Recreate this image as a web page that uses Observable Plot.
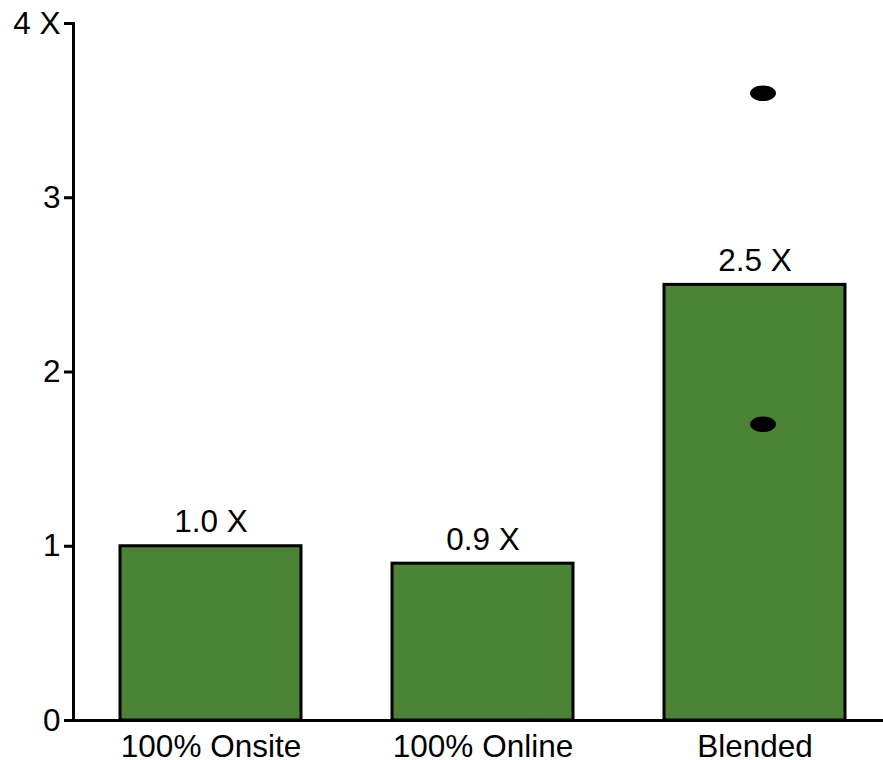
<!DOCTYPE html>
<html>
<head>
<meta charset="utf-8">
<script src="https://cdn.jsdelivr.net/npm/d3@7"></script>
<script src="https://cdn.jsdelivr.net/npm/@observablehq/plot@0.6"></script>
<style>
  html, body { margin: 0; padding: 0; background: #fff; }
  #chart svg { display: block; }
</style>
</head>
<body>
<div id="chart"></div>
<script>
// Relative outcome by delivery mode
const categories = ["100% Onsite", "100% Online", "Blended"];
const values = [1.0, 0.9, 2.5];
const valueLabels = ["1.0 X", "0.9 X", "2.5 X"];
// Individual observations shown for the blended group
const pointCategories = ["Blended", "Blended"];
const pointValues = [3.6, 1.7];
const yTicks = [0, 1, 2, 3, 4];
const yTickLabels = ["0", "1", "2", "3", "4 X"];

const bars = categories.map((c, i) => ({category: c, value: values[i], label: valueLabels[i]}));
const points = pointCategories.map((c, i) => ({category: c, value: pointValues[i]}));

const FONT_SIZE = 31.5;

// Horizontal ellipse drawn as a dot symbol
const ellipseSymbol = {
  draw(context, size) {
    const rx = Math.sqrt(size / Math.PI);
    const ry = rx * 0.6;
    const k = 0.5523;
    context.moveTo(rx, 0);
    context.bezierCurveTo(rx, k * ry, k * rx, ry, 0, ry);
    context.bezierCurveTo(-k * rx, ry, -rx, k * ry, -rx, 0);
    context.bezierCurveTo(-rx, -k * ry, -k * rx, -ry, 0, -ry);
    context.bezierCurveTo(k * rx, -ry, rx, -k * ry, rx, 0);
    context.closePath();
  }
};

const chart = Plot.plot({
  width: 883,
  height: 760,
  marginTop: 23,
  marginBottom: 40,
  marginLeft: 73,
  marginRight: 0,
  style: {fontFamily: "'Liberation Sans', Arial, sans-serif", fontSize: FONT_SIZE + "px", color: "black", background: "white"},
  x: {domain: categories, paddingInner: 0.336, paddingOuter: 0.154, align: 0.548, label: null},
  y: {domain: [0, 4], label: null},
  marks: [
    Plot.barY(bars, {x: "category", y: "value", fill: "#4a8236", stroke: "black", strokeWidth: 3}),
    Plot.text(bars, {x: "category", y: "value", text: "label", lineAnchor: "bottom", dy: -14, fontSize: FONT_SIZE, fill: "black"}),
    Plot.dot(points, {x: "category", y: "value", r: 13, dx: 8, symbol: ellipseSymbol, fill: "black", stroke: "none"}),
    Plot.frame({anchor: "left", strokeWidth: 3}),
    Plot.ruleY([0], {strokeWidth: 3}),
    Plot.axisY({ticks: yTicks, tickFormat: (d) => yTickLabels[yTicks.indexOf(d)], tickSize: 9, tickPadding: 4, strokeWidth: 3, fontSize: FONT_SIZE, label: null}),
    Plot.axisX({tickSize: 0, tickPadding: 14, fontSize: FONT_SIZE, label: null})
  ]
});

document.getElementById("chart").append(chart);
</script>
</body>
</html>
